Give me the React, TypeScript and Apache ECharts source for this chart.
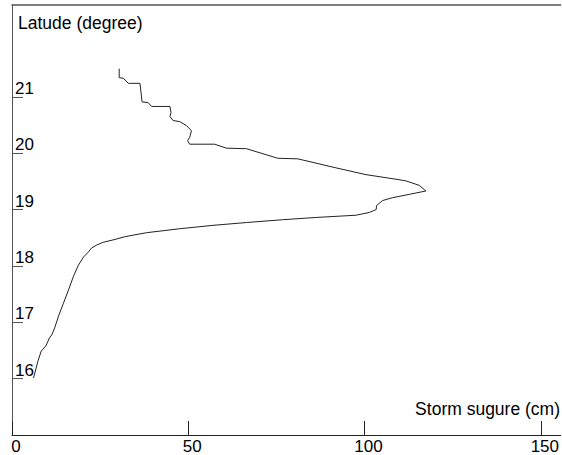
import React, { useEffect, useRef } from "react";
import * as echarts from "echarts";

// Storm surge (cm) along the coast, listed from south to north
const surge = [
  6.1, 7.4, 8.3, 9.6, 10.6, 11.3, 12.1, 13.2, 14.6, 16.0, 17.4, 18.8, 20.3, 21.7, 22.6, 24.0, 25.9,
  29.2, 32.1, 38.2, 47.6, 57.0, 66.5, 76.8, 86.3, 97.6, 101.4, 103.3, 103.4, 105.1, 107.9, 112.7,
  117.4, 115.5, 111.7, 109.8, 100.4, 91.9, 81.1, 75.4, 66.5, 60.8, 57.5, 50.4, 49.8, 50.4, 50.9,
  49.5, 47.6, 45.7, 44.8, 45.1, 44.8, 39.6, 38.6, 36.9, 36.3, 33.0, 31.6, 30.4, 30.4,
];
// Latitude (degree) of each point
const latitude = [
  16.01, 16.32, 16.49, 16.58, 16.72, 16.78, 16.9, 17.11, 17.34, 17.57, 17.81, 18.01, 18.16, 18.25,
  18.32, 18.37, 18.42, 18.47, 18.52, 18.59, 18.66, 18.72, 18.77, 18.82, 18.86, 18.9, 18.95, 19.0,
  19.07, 19.16, 19.21, 19.27, 19.33, 19.43, 19.51, 19.53, 19.62, 19.74, 19.9, 19.91, 20.08, 20.09,
  20.16, 20.16, 20.22, 20.28, 20.4, 20.49, 20.56, 20.58, 20.65, 20.72, 20.83, 20.83, 20.9, 20.91,
  21.24, 21.24, 21.33, 21.34, 21.5,
];
const latTicks = [16, 17, 18, 19, 20, 21];
const surgeTicks = [0, 50, 100, 150];

const yTitle = "Latude (degree)";
const xTitle = "Storm sugure (cm)";

export default function App() {
  const ref = useRef<HTMLDivElement>(null);
  useEffect(() => {
    if (!ref.current) return;
    const chart = echarts.init(ref.current, null, { renderer: "svg" });
    const font = "Liberation Sans, Arial, sans-serif";
    const axisColor = "#222";
    chart.setOption({
      animation: false,
      backgroundColor: "#fff",
      textStyle: { fontFamily: font },
      grid: { left: 12, top: 5, width: 550, height: 432, containLabel: false },
      xAxis: [
        {
          type: "value",
          min: 0,
          max: 155.6,
          position: "bottom",
          axisLine: { show: true, lineStyle: { color: axisColor, width: 1 } },
          axisTick: {
            show: true,
            inside: true,
            length: 14,
            customValues: surgeTicks,
            lineStyle: { color: axisColor },
          },
          axisLabel: {
            customValues: surgeTicks,
            fontSize: 17,
            color: "#000",
            margin: 3,
            fontFamily: font,
            padding: [0, 0, 0, 8],
          },
          splitLine: { show: false },
        },
        {
          type: "value",
          min: 0,
          max: 155.6,
          position: "top",
          axisLine: { show: true, lineStyle: { color: "#555", width: 1.5 } },
          axisTick: { show: false },
          axisLabel: { show: false },
          splitLine: { show: false },
        },
      ],
      yAxis: {
        type: "value",
        min: 15,
        max: 22.63,
        axisLine: { show: true, lineStyle: { color: "#555", width: 1 } },
        axisTick: {
          show: true,
          inside: true,
          length: 11,
          customValues: latTicks,
          lineStyle: { color: "#555" },
        },
        axisLabel: {
          customValues: latTicks,
          inside: true,
          verticalAlign: "bottom",
          margin: 3,
          fontSize: 17,
          color: "#000",
          fontFamily: font,
        },
        splitLine: { show: false },
      },
      graphic: [
        {
          type: "text",
          left: 18,
          top: 14,
          style: { text: yTitle, font: `17.5px ${font}`, fill: "#000" },
        },
        {
          type: "text",
          right: 2,
          top: 400,
          style: { text: xTitle, font: `17.5px ${font}`, fill: "#000" },
        },
      ],
      series: [
        {
          type: "line",
          xAxisIndex: 0,
          data: surge.map((s, i) => [s, latitude[i]]),
          showSymbol: false,
          smooth: false,
          lineStyle: { color: "#222", width: 1 },
        },
      ],
    });
    return () => chart.dispose();
  }, []);
  return (
    <div
      ref={ref}
      style={{ position: "fixed", left: 0, top: 0, width: 562, height: 455 }}
    />
  );
}
